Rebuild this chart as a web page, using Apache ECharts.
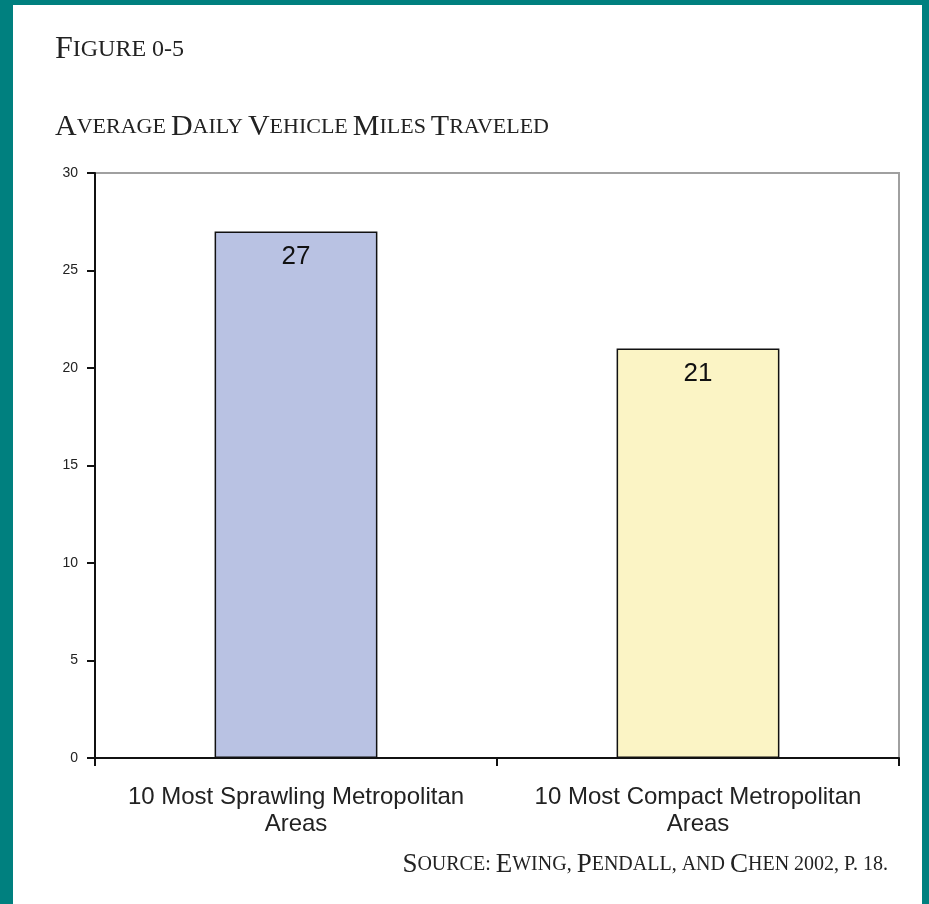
<!DOCTYPE html>
<html>
<head>
<meta charset="utf-8">
<script src="https://cdn.jsdelivr.net/npm/echarts@6/dist/echarts.min.js"></script>
<style>
  html, body { margin: 0; padding: 0; background: #00807f; width: 929px; height: 904px; overflow: hidden; }
  #chart { position: absolute; left: 13px; top: 5px; width: 909px; height: 899px; background: #fff; }
</style>
</head>
<body>
<div id="chart"></div>
<script>
// 分类与数值
const categories = ['10 Most Sprawling Metropolitan\nAreas', '10 Most Compact Metropolitan\nAreas'];
const miles = [27, 21];
const barColors = ['#b9c2e3', '#fbf4c5'];
const yTicks = { min: 0, max: 30, interval: 5 };

const chart = echarts.init(document.getElementById('chart'));

// 小型大写字母的样式
const serif = 'Liberation Serif';
const rich = (big, small) => ({
    b: { fontFamily: serif, fontSize: big, fontWeight: 'normal', color: '#222' },
    s: { fontFamily: serif, fontSize: small, fontWeight: 'normal', color: '#222' }
});

chart.setOption({
    backgroundColor: '#fff',
    animation: false,
    title: [
        {
            text: '{b|F}{s|IGURE 0-5}',
            left: 42,
            top: 29,
            padding: 0,
            textStyle: { fontWeight: 'normal', rich: rich(32, 24) }
        },
        {
            text: '{b|A}{s|VERAGE} {b|D}{s|AILY} {b|V}{s|EHICLE} {b|M}{s|ILES} {b|T}{s|RAVELED}',
            left: 42,
            top: 107,
            padding: 0,
            textStyle: { fontWeight: 'normal', rich: rich(30, 22) }
        },
        {
            text: '{b|S}{s|OURCE:} {b|E}{s|WING,} {b|P}{s|ENDALL, AND} {b|C}{s|HEN 2002, P. 18.}',
            right: 34,
            top: 846,
            padding: 0,
            textStyle: { fontWeight: 'normal', rich: rich(27, 20) }
        }
    ],
    grid: {
        left: 82,
        right: 23,
        top: 168,
        bottom: 146,
        show: true,
        borderColor: '#a0a0a0',
        borderWidth: 2
    },
    xAxis: {
        type: 'category',
        data: categories,
        axisLine: { lineStyle: { color: '#111', width: 2 } },
        axisTick: { show: true, interval: 0, length: 8, lineStyle: { color: '#111', width: 2 } },
        axisLabel: {
            interval: 0,
            hideOverlap: false,
            margin: 26,
            fontFamily: 'Liberation Sans',
            fontSize: 24,
            lineHeight: 27,
            color: '#222'
        }
    },
    yAxis: {
        type: 'value',
        min: yTicks.min,
        max: yTicks.max,
        interval: yTicks.interval,
        splitLine: { show: false },
        axisLine: { show: true, lineStyle: { color: '#111', width: 2 } },
        axisTick: { show: true, length: 8, lineStyle: { color: '#111', width: 2 } },
        axisLabel: {
            margin: 17,
            fontFamily: 'Liberation Sans',
            fontSize: 14,
            color: '#222'
        }
    },
    series: [
        {
            type: 'bar',
            barWidth: '40.5%',
            data: miles.map((v, i) => ({
                value: v,
                itemStyle: { color: barColors[i] }
            })),
            itemStyle: { borderColor: '#111', borderWidth: 1.5 },
            label: {
                show: true,
                position: 'insideTop',
                distance: 12,
                fontFamily: 'Liberation Sans',
                fontSize: 26,
                color: '#111'
            }
        }
    ]
});

window.addEventListener('resize', () => chart.resize());
</script>
</body>
</html>
